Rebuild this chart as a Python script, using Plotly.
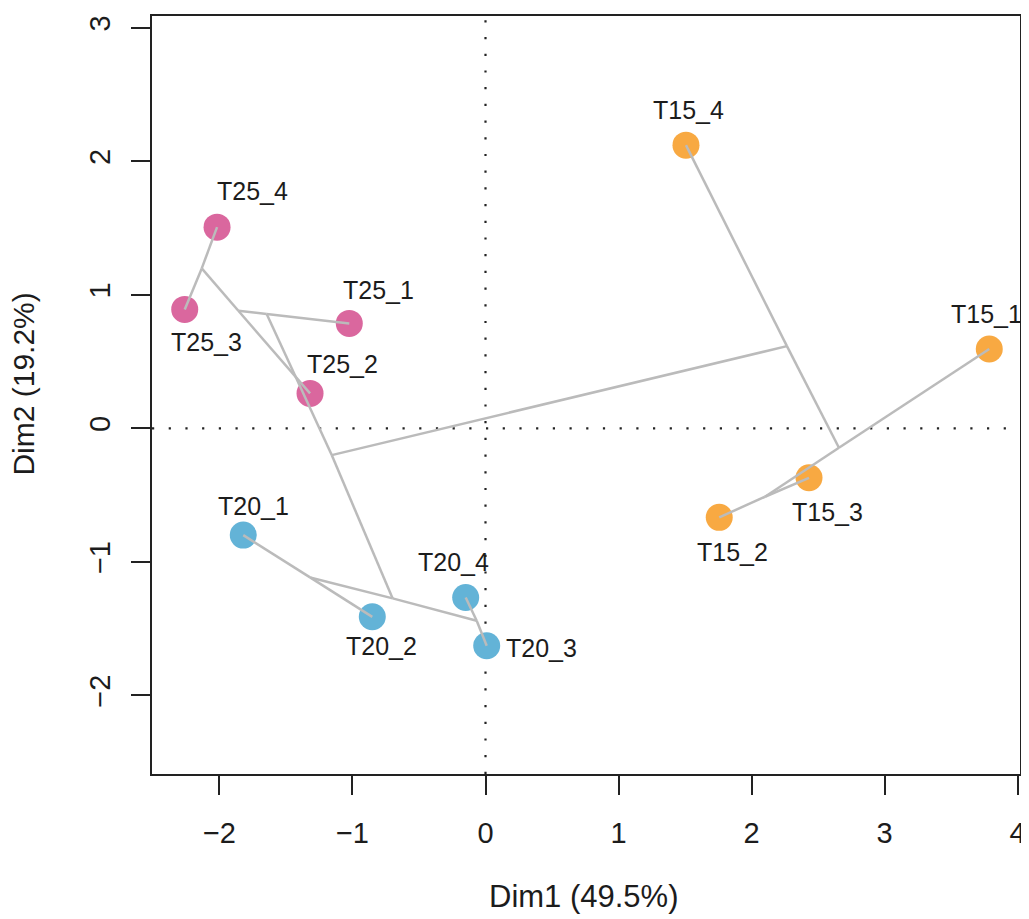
import plotly.graph_objects as go

# ---- data (PCA individual coordinates) ----
ind_names = ["T25_1", "T25_2", "T25_3", "T25_4",
             "T20_1", "T20_2", "T20_3", "T20_4",
             "T15_1", "T15_2", "T15_3", "T15_4"]
ind_dim1 = [-1.024, -1.319, -2.261, -2.018,
            -1.821, -0.851, 0.009, -0.149,
            3.787, 1.757, 2.432, 1.507]
ind_dim2 = [0.786, 0.262, 0.891, 1.507,
            -0.799, -1.411, -1.628, -1.266,
            0.594, -0.666, -0.370, 2.121]
ind_group = ["T25"] * 4 + ["T20"] * 4 + ["T15"] * 4

# internal nodes of the hierarchical tree (projected on the plane)
node_names = ["A", "B", "C", "D", "E", "P", "Q", "F", "G", "H"]
node_dim1 = [-2.133, -1.858, -1.645, -1.156, -0.698, -1.319, -0.066, 2.266, 2.657, 2.101]
node_dim2 = [1.198, 0.881, 0.856, -0.200, -1.273, -1.116, -1.441, 0.616, -0.145, -0.512]

# tree edges (pairs of node / individual names)
edges = [("T25_4", "A"), ("A", "T25_3"), ("A", "B"), ("B", "T25_2"),
         ("B", "C"), ("C", "T25_1"), ("C", "D"), ("D", "E"),
         ("E", "P"), ("P", "T20_1"), ("P", "T20_2"),
         ("E", "Q"), ("Q", "T20_4"), ("Q", "T20_3"),
         ("D", "F"), ("F", "T15_4"), ("F", "G"),
         ("G", "T15_1"), ("G", "H"), ("H", "T15_2"), ("H", "T15_3")]

x_ticks = [-2, -1, 0, 1, 2, 3, 4]
y_ticks = [-2, -1, 0, 1, 2, 3]
x_title = "Dim1 (49.5%)"
y_title = "Dim2 (19.2%)"

# ---- styles ----
group_colors = {"T25": "#DA679E", "T20": "#63B3D7", "T15": "#F8A942"}
# label offsets in pixels (right, up)
label_dx = [29, 32, 22, 35, 10, 9, 55, -12, -3, 13, 18, 3]
label_dy = [33, 29, -33, 36, 29, -29, -2, 35, 35, -35, -34, 35]

FONT = "Liberation Sans, Arial, Helvetica, sans-serif"
TXT = "#1c1c1c"

coords = {n: (x, y) for n, x, y in zip(ind_names, ind_dim1, ind_dim2)}
coords.update({n: (x, y) for n, x, y in zip(node_names, node_dim1, node_dim2)})

tx, ty = [], []
for a, b in edges:
    tx += [coords[a][0], coords[b][0], None]
    ty += [coords[a][1], coords[b][1], None]

fig = go.Figure()

fig.add_trace(go.Scatter(
    x=ind_dim1, y=ind_dim2, mode="markers",
    marker=dict(size=27, color=[group_colors[g] for g in ind_group], line=dict(width=0)),
    hoverinfo="text", text=ind_names, showlegend=False))

fig.add_trace(go.Scatter(
    x=tx, y=ty, mode="lines",
    line=dict(color="#BBBBBB", width=2.5),
    hoverinfo="skip", showlegend=False))

for n, x, y, dx, dy in zip(ind_names, ind_dim1, ind_dim2, label_dx, label_dy):
    fig.add_annotation(x=x, y=y, text=n, showarrow=False, xshift=dx, yshift=dy,
                       font=dict(family=FONT, size=25, color=TXT))

# dotted reference lines at 0
fig.add_shape(type="line", xref="x", yref="paper", x0=0, x1=0, y0=0, y1=1,
              line=dict(color="#222222", width=2.2, dash="2.2px,14.5px"), layer="below")
fig.add_shape(type="line", xref="paper", yref="y", x0=0, x1=1, y0=0, y1=0,
              line=dict(color="#222222", width=2.2, dash="2.2px,14.5px"), layer="below")

axis_common = dict(
    showgrid=False, zeroline=False, showline=True, mirror=True, automargin=False,
    linecolor="#222222", linewidth=2, ticks="outside", ticklen=19,
    tickwidth=2, tickcolor="#222222", ticklabeloverflow="allow",
    tickfont=dict(family=FONT, size=29, color=TXT),
)

fig.update_xaxes(range=[-2.507, 4.018], tickvals=x_ticks,
                 ticktext=[str(v).replace("-", "\u2212") for v in x_ticks],
                 ticklabelstandoff=13, **axis_common)
fig.update_yaxes(range=[-2.588, 3.088], tickvals=y_ticks,
                 ticktext=[str(v).replace("-", "\u2212") for v in y_ticks],
                 tickangle=-90, ticklabelstandoff=9, **axis_common)

fig.add_annotation(xref="paper", yref="paper", x=0.498, y=-0.1610, text=x_title,
                   showarrow=False, font=dict(family=FONT, size=31, color=TXT),
                   xanchor="center", yanchor="middle")
fig.add_annotation(xref="paper", yref="paper", x=-0.1475, y=0.515, text=y_title,
                   textangle=-90, showarrow=False,
                   font=dict(family=FONT, size=30, color=TXT),
                   xanchor="center", yanchor="middle")

# the page body adds an 8px offset; size the figure to compensate
fig.update_layout(
    width=1021, height=911,
    margin=dict(l=144, r=9, t=8, b=145),
    plot_bgcolor="white", paper_bgcolor="white",
    showlegend=False,
)

fig.write_html("out.html")
